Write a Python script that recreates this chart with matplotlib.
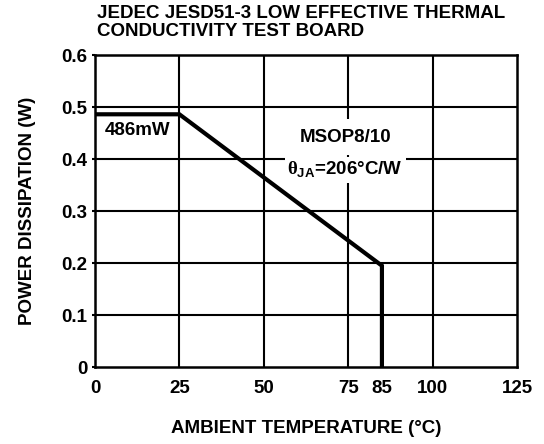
# -*- coding:utf-8 -*-
# Power derating curve for MSOP8/10 on a JEDEC low-k test board

import matplotlib
matplotlib.use('Agg')
import matplotlib.pyplot as plt

plt.rcParams['font.family'] = ['Liberation Sans', 'DejaVu Sans']
plt.rcParams['font.weight'] = 'bold'
plt.rcParams['mathtext.fontset'] = 'custom'
plt.rcParams['mathtext.rm'] = 'Liberation Serif'
plt.rcParams['mathtext.bf'] = 'Liberation Sans:bold'

# derating data
p_max = 0.486          # W
theta_ja = 206.0       # degC/W
t_knee = 25.0
t_max = 85.0
temp = [0.0, t_knee, t_max, t_max]
power = [p_max, p_max, p_max - (t_max - t_knee) / theta_ja, 0.0]

xticks = [0, 25, 50, 75, 85, 100, 125]
xgrid = [25, 50, 75, 100]
yticks = [0, 0.1, 0.2, 0.3, 0.4, 0.5, 0.6]
ytick_labels = ['0', '0.1', '0.2', '0.3', '0.4', '0.5', '0.6']

fs = 13.5

fig = plt.figure(figsize=(5.44, 4.44), dpi=100)
ax = fig.add_axes([0.1746, 0.1734, 0.7757, 0.7027])

for x in xgrid:
    ax.axvline(x, color='black', lw=1.5, zorder=1)
for y in yticks[1:-1]:
    ax.axhline(y, color='black', lw=1.5, zorder=1)

ax.plot(temp, power, color='black', lw=3.0, zorder=3, solid_joinstyle='miter')

ax.set_xlim(0, 125)
ax.set_ylim(0, 0.6)
ax.set_xticks(xticks)
ax.set_xticklabels([str(t) for t in xticks], fontsize=fs, fontweight='bold')
ax.set_yticks(yticks)
ax.set_yticklabels(ytick_labels, fontsize=fs, fontweight='bold')
ax.tick_params(axis='x', length=0, pad=9)
ax.tick_params(axis='y', length=2, width=1.5, pad=3.5)
for s in ax.spines.values():
    s.set_linewidth(1.8)

ax.set_xlabel('AMBIENT TEMPERATURE (°C)', fontsize=fs, fontweight='bold')
ax.xaxis.set_label_coords(0.5, -0.17)
ax.set_ylabel('POWER DISSIPATION (W)', fontsize=fs, fontweight='bold')
ax.yaxis.set_label_coords(-0.14, 0.5)

fig.text(0.178, 0.988, 'JEDEC JESD51-3 LOW EFFECTIVE THERMAL\nCONDUCTIVITY TEST BOARD',
         fontsize=fs, fontweight='bold', ha='left', va='top', linespacing=1.07)

ax.text(12.7, 0.454, '%dmW' % round(p_max * 1000), fontsize=fs, fontweight='bold',
        ha='center', va='center', zorder=4)
ax.text(74.1, 0.442, 'MSOP8/10', fontsize=fs, fontweight='bold',
        ha='center', va='center', bbox=dict(facecolor='white', edgecolor='none', pad=7), zorder=4)
ax.text(74.1, 0.379, r'$\mathrm{\theta}_{\mathbf{JA}}$=%d°C/W' % theta_ja, fontsize=fs,
        fontweight='bold', ha='center', va='center',
        bbox=dict(facecolor='white', edgecolor='none', pad=2), zorder=4)

fig.savefig('out.png', dpi=100)
